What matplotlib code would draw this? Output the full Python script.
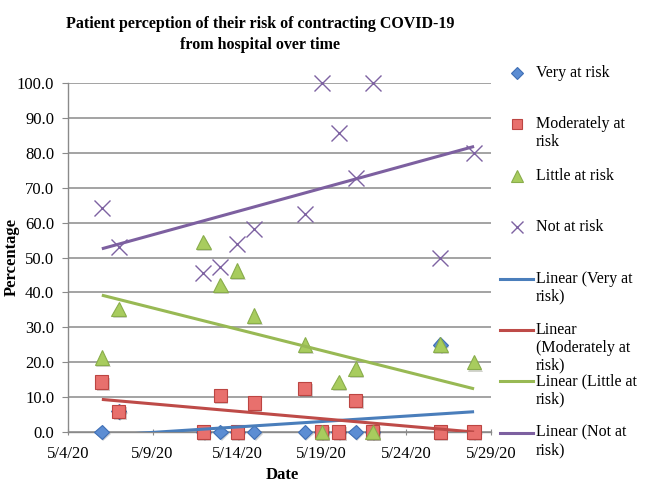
import matplotlib
matplotlib.use('Agg')
import matplotlib.pyplot as plt
import matplotlib.dates as mdates
import matplotlib.patheffects as pe
from matplotlib.lines import Line2D
from matplotlib.ticker import FuncFormatter, MultipleLocator
import numpy as np
import pandas as pd

# --- Data (percent of patients per survey day) ---
dates = ['2020-05-06', '2020-05-07', '2020-05-12', '2020-05-13', '2020-05-14', '2020-05-15',
         '2020-05-18', '2020-05-19', '2020-05-20', '2020-05-21', '2020-05-22', '2020-05-26',
         '2020-05-28']
very_at_risk = [0.0, 5.9, 0.0, 0.0, 0.0, 0.0, 0.0, 0.0, 0.0, 0.0, 0.0, 25.0, 0.0]
moderately_at_risk = [14.3, 5.9, 0.0, 10.5, 0.0, 8.3, 12.5, 0.0, 0.0, 9.1, 0.0, 0.0, 0.0]
little_at_risk = [21.4, 35.3, 54.5, 42.1, 46.2, 33.3, 25.0, 0.0, 14.3, 18.2, 0.0, 25.0, 20.0]
not_at_risk = [64.3, 52.9, 45.5, 47.4, 53.8, 58.3, 62.5, 100.0, 85.7, 72.7, 100.0, 50.0, 80.0]

series_names = ['Very at risk', 'Moderately at risk', 'Little at risk', 'Not at risk']
x_start, x_end = '2020-05-04', '2020-05-29'

plt.rcParams['font.family'] = ['Liberation Serif', 'DejaVu Serif']

W, H = 649, 490
fig = plt.figure(figsize=(W / 100, H / 100), dpi=100)
ax = fig.add_axes([68 / W, 1 - 432 / H, (491 - 68) / W, (432 - 83) / H])

x = mdates.date2num(pd.to_datetime(dates))

styles = [
    dict(marker='D', ms=7.5, mfc='#5C8DD3', mec='#3F6FB5', mew=0.8, line='#4A7EBB'),
    dict(marker='s', ms=9.5, mfc='#E8706D', mec='#BC4542', mew=0.8, line='#BE4B48'),
    dict(marker='^', ms=10.5, mfc='#A8CC5E', mec='#89AD4B', mew=0.8, line='#98B954'),
    dict(marker='x', ms=12, mfc='none', mec='#7E62A2', mew=1.0, line='#7D60A0'),
]
all_series = [very_at_risk, moderately_at_risk, little_at_risk, not_at_risk]

for vals, st in zip(all_series, styles):
    effects = [] if st['marker'] == 'x' else \
        [pe.SimplePatchShadow(offset=(1.0, -1.5), alpha=0.22), pe.Normal()]
    ax.plot(x, vals, linestyle='none', marker=st['marker'], ms=st['ms'], mfc=st['mfc'],
            mec=st['mec'], mew=st['mew'], clip_on=False, zorder=3, path_effects=effects)

# linear trend lines over the data range
for vals, st in zip(all_series, styles):
    k, b = np.polyfit(x, vals, 1)
    xs = np.array([x.min(), x.max()])
    ax.plot(xs, k * xs + b, color=st['line'], lw=2.2, zorder=4, solid_capstyle='butt')

ax.set_ylim(0, 100)
ax.set_xlim(mdates.date2num(pd.Timestamp(x_start)), mdates.date2num(pd.Timestamp(x_end)))
ax.set_xticks(mdates.date2num(pd.date_range(x_start, x_end, freq='5D')))
ax.xaxis.set_major_formatter(FuncFormatter(
    lambda v, _: f"{mdates.num2date(v).month}/{mdates.num2date(v).day}/{mdates.num2date(v).year % 100}"))
ax.yaxis.set_major_locator(MultipleLocator(10))
ax.yaxis.set_major_formatter(FuncFormatter(lambda v, _: f"{v:.1f}"))

grey = '#8A8A8A'
ax.grid(axis='y', color=grey, lw=1.1)
ax.set_axisbelow(True)
for s in ['top', 'right']:
    ax.spines[s].set_visible(False)
for s in ['left', 'bottom']:
    ax.spines[s].set_color(grey)
    ax.spines[s].set_linewidth(1.0)
ax.tick_params(axis='y', direction='out', length=4, color=grey, labelsize=12, pad=6)
ax.tick_params(axis='x', direction='inout', length=4, color=grey, labelsize=12, pad=8)

ax.set_ylabel('Percentage', fontsize=12, fontweight='bold', va='center')
ax.yaxis.set_label_coords((12 - 68) / 423, 0.5)
ax.set_xlabel('Date', fontsize=12, fontweight='bold', va='center')
ax.xaxis.set_label_coords((282 - 68) / 423, (432 - 475) / 349)

# title
fig.text(260 / W, 1 - 24 / H, 'Patient perception of their risk of contracting COVID-19',
         ha='center', va='center', fontsize=11.5, fontweight='bold')
fig.text(260 / W, 1 - 45 / H, 'from hospital over time',
         ha='center', va='center', fontsize=11.5, fontweight='bold')

# legend, drawn by hand to keep Excel's fixed slot spacing
legend_labels = ['Very at risk', 'Moderately at\nrisk', 'Little at risk', 'Not at risk',
                 'Linear (Very at\nrisk)', 'Linear\n(Moderately at\nrisk)',
                 'Linear (Little at\nrisk)', 'Linear (Not at\nrisk)']
leg_ms = [6, 7, 8, 9]
for i, label in enumerate(legend_labels):
    y0 = 73 + 51.4 * i
    if i < 4:
        st = styles[i]
        fig.add_artist(Line2D([517 / W], [1 - y0 / H], transform=fig.transFigure,
                              marker=st['marker'], ms=leg_ms[i], mfc=st['mfc'], mec=st['mec'],
                              mew=st['mew'], linestyle='none'))
    else:
        st = styles[i - 4]
        fig.add_artist(Line2D([500 / W, 533 / W], [1 - y0 / H] * 2, transform=fig.transFigure,
                              color=st['line'], lw=2.2))
    for j, line in enumerate(label.split('\n')):
        fig.text(536 / W, 1 - (y0 + 17.5 * j) / H, line, ha='left', va='center', fontsize=11.5)

fig.savefig('out.png', dpi=100)
